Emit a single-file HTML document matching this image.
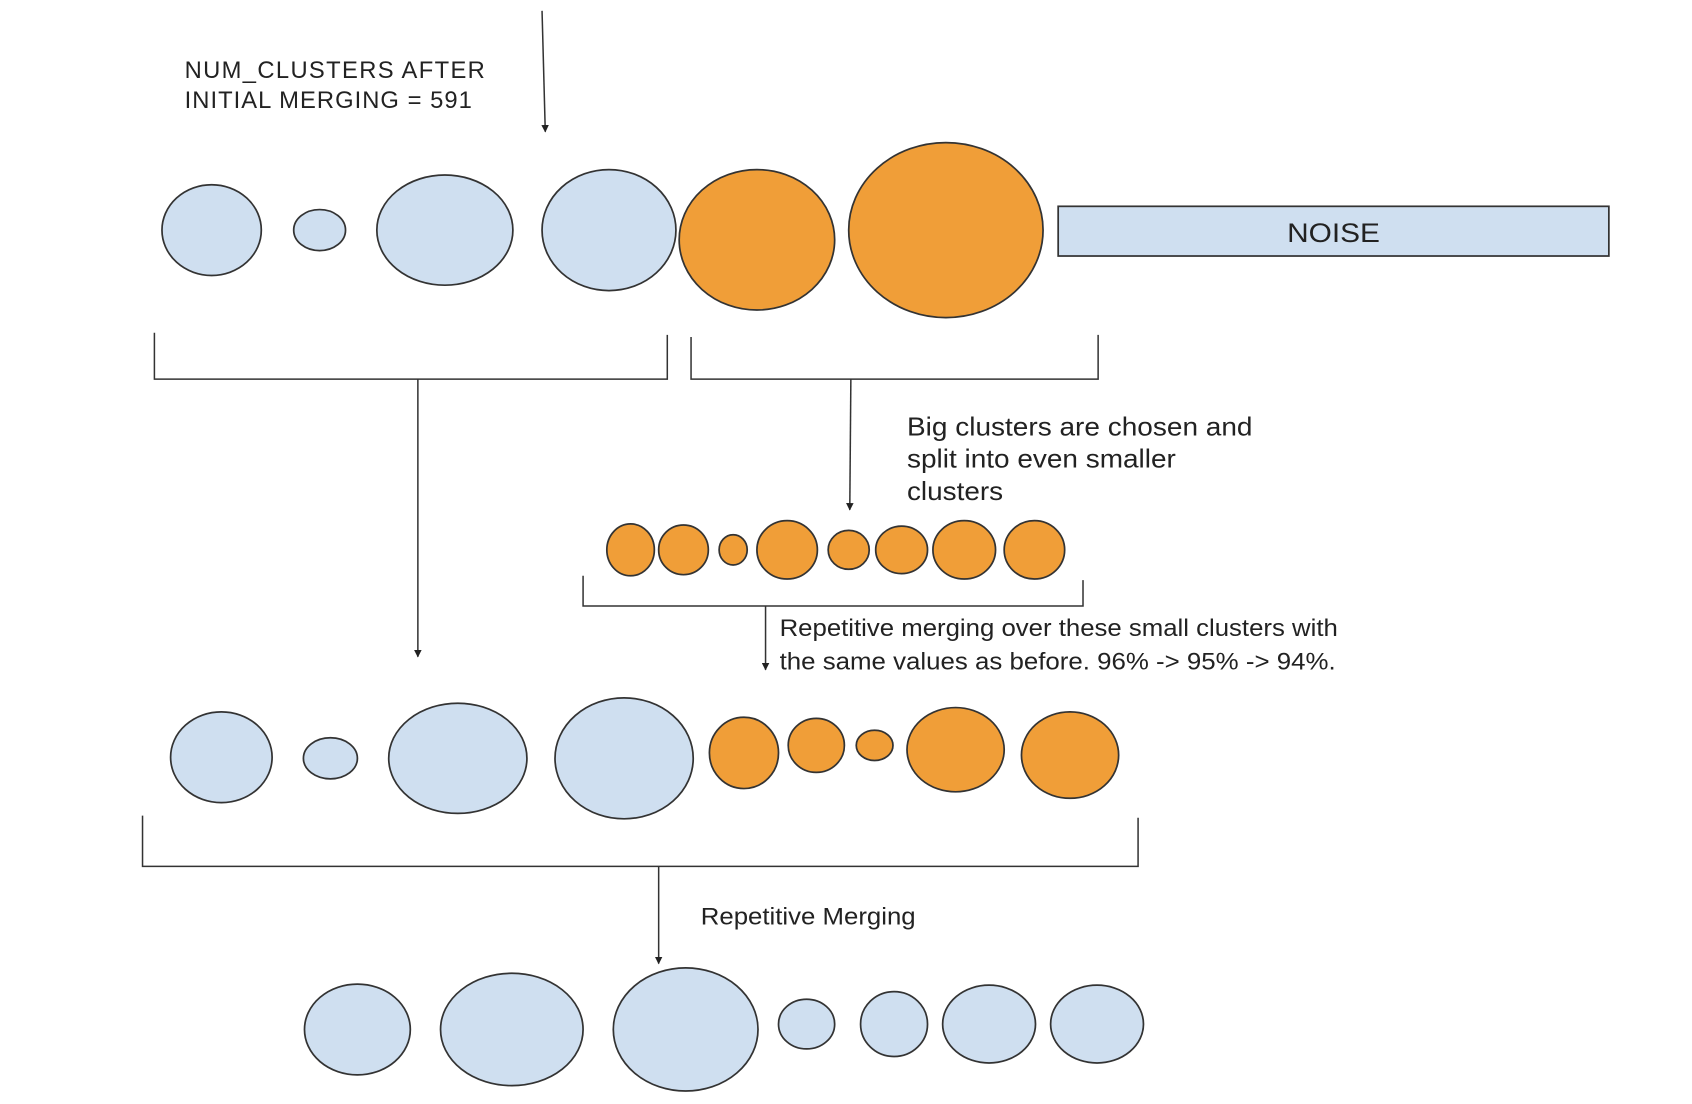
<!DOCTYPE html>
<html><head><meta charset="utf-8"><style>
html,body{margin:0;padding:0;background:#fff;width:1692px;height:1104px;overflow:hidden}
svg{display:block}
text{font-family:"Liberation Sans",sans-serif;fill:#222}
</style></head><body>
<svg width="1692" height="1104" viewBox="0 0 1567 1022" preserveAspectRatio="none">
<defs><marker id="ah" viewBox="0 0 10 10" refX="9" refY="5" markerWidth="5" markerHeight="5" orient="auto"><path d="M0,0L10,5L0,10z" fill="#222"/></marker></defs>
<g id="shapes" stroke="#333" stroke-width="1.6"></g>
<g id="lines" stroke="#333" stroke-width="1.4" fill="none"></g>
<rect x="980" y="191" width="510" height="46" fill="#cfdff0" stroke="#333" stroke-width="1.6"/>
<text x="1192" y="224" font-size="25" textLength="86" lengthAdjust="spacingAndGlyphs">NOISE</text>
<text font-size="22" lengthAdjust="spacingAndGlyphs"><tspan x="171" y="72" textLength="278">NUM_CLUSTERS AFTER</tspan><tspan x="171" y="100" textLength="266">INITIAL MERGING = 591</tspan></text>
<text font-size="24"><tspan x="840" y="403" textLength="320" lengthAdjust="spacingAndGlyphs">Big clusters are chosen and</tspan><tspan x="840" y="433" textLength="249" lengthAdjust="spacingAndGlyphs">split into even smaller</tspan><tspan x="840" y="463" textLength="89" lengthAdjust="spacingAndGlyphs">clusters</tspan></text>
<text font-size="22"><tspan x="722" y="589" textLength="517" lengthAdjust="spacingAndGlyphs">Repetitive merging over these small clusters with</tspan><tspan x="722" y="620" textLength="515" lengthAdjust="spacingAndGlyphs">the same values as before. 96% -&gt; 95% -&gt; 94%.</tspan></text>
<text x="649" y="856" font-size="22" textLength="199" lengthAdjust="spacingAndGlyphs">Repetitive Merging</text>
</svg>
<script>
const B='#cfdff0',O='#f09e38';
const clusterX=[196,296,412,564,701,876, 584,633,679,729,786,835,893,958, 205,306,424,578,689,756,810,885,991, 331,474,635,747,828,916,1016];
const clusterY=[213,213,213,213,222,213, 509,509,509,509,509,509,509,509, 701,702,702,702,697,690,690,694,699, 953,953,953,948,948,948,948];
const clusterRx=[46,24,63,62,72,90, 22,23,13,28,19,24,29,28, 47,25,64,64,32,26,17,45,45, 49,66,67,26,31,43,43];
const clusterRy=[42,19,51,56,65,81, 24,23,14,27,18,22,27,27, 42,19,51,56,33,25,14,39,40, 42,52,57,23,30,36,36];
const clusterOrange=[0,0,0,0,1,1, 1,1,1,1,1,1,1,1, 0,0,0,0,1,1,1,1,1, 0,0,0,0,0,0,0];
const ns='http://www.w3.org/2000/svg';
const g=document.getElementById('shapes');
clusterX.forEach((x,i)=>{
 const e=document.createElementNS(ns,'ellipse');
 e.setAttribute('cx',x);e.setAttribute('cy',clusterY[i]);
 e.setAttribute('rx',clusterRx[i]);e.setAttribute('ry',clusterRy[i]);
 e.setAttribute('fill',clusterOrange[i]?O:B);
 
 
 g.appendChild(e);
});
const L=document.getElementById('lines');
const paths=[
 ['bracket-initial-small','M143,308V351H618V310'],
 ['bracket-initial-big','M640,312V351H1017V310'],
 ['bracket-split','M540,533V561H1003V537'],
 ['bracket-merged','M132,755V802H1054V757']
];
paths.forEach(p=>{const e=document.createElementNS(ns,'path');e.setAttribute('d',p[1]);
 
 
 L.appendChild(e);});
const arrows=[
 ['arrow-top',502,10,505,122],['arrow-left',387,351,387,608],['arrow-split',788,351,787,472],
 ['arrow-merge-small',709,561,709,620],['arrow-final',610,802,610,892]
];
arrows.forEach(a=>{const e=document.createElementNS(ns,'line');
 e.setAttribute('x1',a[1]);e.setAttribute('y1',a[2]);e.setAttribute('x2',a[3]);e.setAttribute('y2',a[4]);
 e.setAttribute('marker-end','url(#ah)');
 
 
 L.appendChild(e);});
</script>
</body></html>
